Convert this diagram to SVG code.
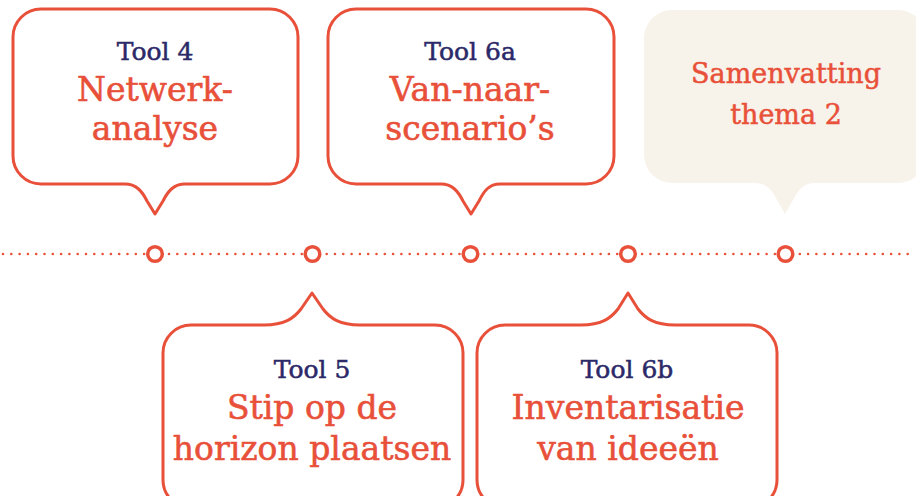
<svg xmlns="http://www.w3.org/2000/svg" width="916" height="496" viewBox="0 0 916 496">
<style>
.bubble{fill:#ffffff;stroke:#E8503A;stroke-width:3;stroke-linejoin:round}
.beige{fill:#F8F3EA;stroke:none}
.tool{font-family:"DejaVu Serif","Liberation Serif",serif;font-size:25px;fill:#2B2968;stroke:#2B2968;stroke-width:0.5;text-anchor:middle}
.title{font-family:"DejaVu Serif","Liberation Serif",serif;font-size:33px;fill:#E8503A;stroke:#E8503A;stroke-width:0.6;text-anchor:middle}
.sum{font-family:"DejaVu Serif","Liberation Serif",serif;font-size:27px;fill:#E8503A;stroke:#E8503A;stroke-width:0.5;text-anchor:middle}
.dot{stroke:#E8503A;stroke-width:2.6;stroke-linecap:round;stroke-dasharray:0 8.3;fill:none}
.ring{fill:#ffffff;stroke:#E8503A;stroke-width:3.5}
</style>
<g id="connectors">
<line class="dot" x1="3" y1="254" x2="916" y2="254"/>
<circle class="ring" cx="155" cy="254" r="7.3"/>
<circle class="ring" cx="312.5" cy="254" r="7.3"/>
<circle class="ring" cx="470.5" cy="254" r="7.3"/>
<circle class="ring" cx="628" cy="254" r="7.3"/>
<circle class="ring" cx="785.5" cy="254" r="7.3"/>
</g>
<g id="tool4">
<path class="bubble" d="M41,9 H270 A28,28 0 0 1 298,37 V156 A28,28 0 0 1 270,184 H185 C174,184 168,191 163,201 L155,214 L147,201 C142,191 136,184 125,184 H41 A28,28 0 0 1 13,156 V37 A28,28 0 0 1 41,9 Z"/>
<text class="tool" x="155" y="60">Tool 4</text>
<text class="title" x="155" y="101">Netwerk-</text>
<text class="title" x="155" y="140">analyse</text>
</g>
<g id="tool6a">
<path class="bubble" d="M356,9 H586 A28,28 0 0 1 614,37 V156 A28,28 0 0 1 586,184 H500 C489,184 484,191 479,201 L471,214 L463,201 C458,191 452,184 441,184 H356 A28,28 0 0 1 328,156 V37 A28,28 0 0 1 356,9 Z"/>
<text class="tool" x="470" y="60">Tool 6a</text>
<text class="title" x="470" y="101">Van-naar-</text>
<text class="title" x="470" y="140">scenario’s</text>
</g>
<g id="samenvatting">
<path class="beige" d="M672,10 H898 A28,28 0 0 1 926,38 V155 A28,28 0 0 1 898,183 H815 C804,183 798,190 793,200 L785,214 L777,200 C772,190 766,183 755,183 H672 A28,28 0 0 1 644,155 V38 A28,28 0 0 1 672,10 Z"/>
<text class="sum" x="786" y="83">Samenvatting</text>
<text class="sum" x="786" y="124">thema 2</text>
</g>
<g id="tool5">
<path class="bubble" d="M191,325 H264 C285,325 294,318 301,309 L312,293 L323,309 C330,318 339,325 360,325 H435 A28,28 0 0 1 463,353 V480 A28,28 0 0 1 435,508 H191 A28,28 0 0 1 163,480 V353 A28,28 0 0 1 191,325 Z"/>
<text class="tool" x="312" y="378">Tool 5</text>
<text class="title" x="312" y="419">Stip op de</text>
<text class="title" x="312" y="460">horizon plaatsen</text>
</g>
<g id="tool6b">
<path class="bubble" d="M505,325 H581 C602,325 611,318 618,309 L628,293 L638,309 C645,318 654,325 675,325 H749 A28,28 0 0 1 777,353 V480 A28,28 0 0 1 749,508 H505 A28,28 0 0 1 477,480 V353 A28,28 0 0 1 505,325 Z"/>
<text class="tool" x="627" y="378">Tool 6b</text>
<text class="title" x="628" y="419">Inventarisatie</text>
<text class="title" x="628" y="460">van ideeën</text>
</g>
</svg>
